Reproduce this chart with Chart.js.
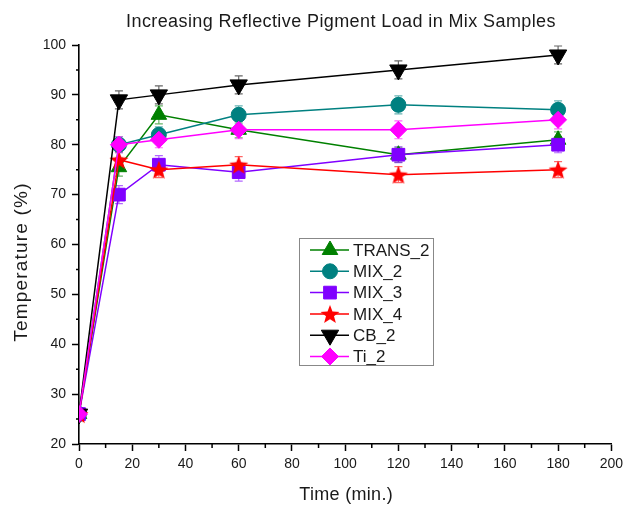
<!DOCTYPE html>
<html>
<head>
<meta charset="utf-8">
<script src="https://cdn.jsdelivr.net/npm/chart.js@4.4.0/dist/chart.umd.min.js"></script>
<style>
  html, body { margin: 0; padding: 0; background: #fff; }
  #wrap { width: 628px; height: 506px; }
</style>
</head>
<body>
<div id="wrap"><canvas id="reflectChart"></canvas></div>
<script>
// sampling times (min.)
const times = [0, 15, 30, 60, 120, 180];

// temperature readings per sample
const trans2 = [26, 75.5, 86, 83, 78, 81];
const mix2 = [26, 80, 82, 86, 88, 87];
const mix3 = [26, 70, 76, 74.5, 78, 80];
const mix4 = [26, 77, 75, 76, 74, 75];
const cb2 = [26, 89, 90, 92, 95, 98];
const ti2 = [26, 80, 81, 83, 83, 85];

// +/- spread for each reading
const trans2Err = [0.8, 1.8, 1.8, 1.6, 1.5, 1.6];
const mix2Err = [0.8, 1.6, 1.6, 1.8, 1.8, 1.8];
const mix3Err = [0.8, 1.8, 1.8, 1.8, 1.6, 1.6];
const mix4Err = [0.8, 1.6, 1.6, 1.6, 1.6, 1.6];
const cb2Err = [0.8, 1.8, 1.8, 1.8, 1.8, 1.8];
const ti2Err = [0.8, 1.6, 1.6, 1.8, 1.8, 1.8];

const xTicks = [0, 20, 40, 60, 80, 100, 120, 140, 160, 180, 200];
const yTicks = [20, 30, 40, 50, 60, 70, 80, 90, 100];
const xMinorTicks = [10, 30, 50, 70, 90, 110, 130, 150, 170, 190];
const yMinorTicks = [25, 35, 45, 55, 65, 75, 85, 95];

const seriesNames = ['TRANS_2', 'MIX_2', 'MIX_3', 'MIX_4', 'CB_2', 'Ti_2'];

const FONT = '"Liberation Sans", Arial, sans-serif';

function makeStar(color, outer, inner) {
    const c = document.createElement('canvas');
    const s = Math.ceil(outer * 2 + 2);
    c.width = s;
    c.height = s;
    const g = c.getContext('2d');
    g.beginPath();
    for (let i = 0; i < 10; i++) {
        const r = i % 2 ? inner : outer;
        const a = -Math.PI / 2 + i * Math.PI / 5;
        g.lineTo(s / 2 + r * Math.cos(a), s / 2 + 1 + r * Math.sin(a));
    }
    g.closePath();
    g.fillStyle = color;
    g.fill();
    return c;
}

const starImg = makeStar('#ff0000', 10, 4.2);

const styles = [
    { color: '#008000', pointStyle: 'triangle', radius: 9, rotation: 0 },
    { color: '#008080', pointStyle: 'circle', radius: 7.5, rotation: 0 },
    { color: '#8000ff', pointStyle: 'rect', radius: 9, rotation: 0 },
    { color: '#ff0000', pointStyle: starImg, radius: 9, rotation: 0 },
    { color: '#000000', pointStyle: 'triangle', radius: 10, rotation: 180 },
    { color: '#ff00ff', pointStyle: 'rectRot', radius: 8.5, rotation: 0 }
];

const values = [trans2, mix2, mix3, mix4, cb2, ti2];
const errors = [trans2Err, mix2Err, mix3Err, mix4Err, cb2Err, ti2Err];

const datasets = values.map((vals, i) => ({
    label: seriesNames[i],
    data: vals.map((v, j) => ({ x: times[j], y: v })),
    borderColor: styles[i].color,
    backgroundColor: styles[i].color,
    borderWidth: 1.5,
    pointStyle: styles[i].pointStyle,
    pointRadius: styles[i].radius,
    pointRotation: styles[i].rotation,
    pointBorderWidth: 1,
    pointBorderColor: styles[i].color,
    pointBackgroundColor: styles[i].color,
    tension: 0,
    order: values.length - i
}));

const hexA = (hex, a) => {
    const n = parseInt(hex.slice(1), 16);
    return 'rgba(' + (n >> 16) + ',' + ((n >> 8) & 255) + ',' + (n & 255) + ',' + a + ')';
};

// vertical error bars with caps, under the markers
const errorBars = {
    id: 'errorBars',
    beforeDatasetsDraw(chart) {
        const { ctx, chartArea, scales } = chart;
        ctx.save();
        ctx.beginPath();
        ctx.rect(chartArea.left, chartArea.top, chartArea.width, chartArea.height);
        ctx.clip();
        values.forEach((vals, i) => {
            ctx.strokeStyle = hexA(styles[i].color, 0.6);
            ctx.lineWidth = 1.2;
            vals.forEach((v, j) => {
                const x = scales.x.getPixelForValue(times[j]);
                const yt = scales.y.getPixelForValue(v + errors[i][j]);
                const yb = scales.y.getPixelForValue(v - errors[i][j]);
                ctx.beginPath();
                ctx.moveTo(x, yt); ctx.lineTo(x, yb);
                ctx.moveTo(x - 4, yt); ctx.lineTo(x + 4, yt);
                ctx.moveTo(x - 4, yb); ctx.lineTo(x + 4, yb);
                ctx.stroke();
            });
        });
        ctx.restore();
    }
};

// short unlabeled ticks between the major ones
const minorTicks = {
    id: 'minorTicks',
    afterDraw(chart) {
        const { ctx, chartArea, scales } = chart;
        ctx.save();
        ctx.strokeStyle = '#000';
        ctx.lineWidth = 1.5;
        ctx.beginPath();
        xMinorTicks.forEach(v => {
            const x = scales.x.getPixelForValue(v);
            ctx.moveTo(x, chartArea.bottom);
            ctx.lineTo(x, chartArea.bottom + 4);
        });
        yMinorTicks.forEach(v => {
            const y = scales.y.getPixelForValue(v);
            ctx.moveTo(chartArea.left, y);
            ctx.lineTo(chartArea.left - 3, y);
        });
        ctx.stroke();
        ctx.restore();
    }
};

// chart title and axis titles
const titles = {
    id: 'titles',
    afterDraw(chart) {
        const { ctx, chartArea } = chart;
        ctx.save();
        ctx.fillStyle = '#1a1a1a';
        ctx.textAlign = 'center';
        ctx.textBaseline = 'alphabetic';

        ctx.font = '18px ' + FONT;
        ctx.letterSpacing = '0.4px';
        ctx.fillText('Increasing Reflective Pigment Load in Mix Samples', 341, 27);

        ctx.letterSpacing = '0.3px';
        ctx.fillText('Time (min.)', (chartArea.left + chartArea.right) / 2 + 1, 500);

        ctx.font = '19px ' + FONT;
        ctx.letterSpacing = '1.2px';
        ctx.translate(27, 262);
        ctx.rotate(-Math.PI / 2);
        ctx.fillText('Temperature (%)', 0, 0);
        ctx.restore();
    }
};

// boxed legend inside the plot
const insideLegend = {
    id: 'insideLegend',
    afterDraw(chart) {
        const { ctx, chartArea } = chart;
        const left = chartArea.left + 220;
        const top = chartArea.top + 193;
        const w = 134, h = 127, rowH = 21.3;
        ctx.save();
        ctx.fillStyle = '#fff';
        ctx.fillRect(left, top, w, h);
        ctx.strokeStyle = '#888';
        ctx.lineWidth = 1;
        ctx.strokeRect(left + 0.5, top + 0.5, w, h);
        ctx.font = '17px ' + FONT;
        ctx.textBaseline = 'middle';
        seriesNames.forEach((name, i) => {
            const y = top + 12 + i * rowH;
            const st = styles[i];
            ctx.strokeStyle = st.color;
            ctx.lineWidth = 1.5;
            ctx.beginPath();
            ctx.moveTo(left + 11, y);
            ctx.lineTo(left + 50, y);
            ctx.stroke();
            ctx.fillStyle = st.color;
            ctx.lineWidth = 1;
            Chart.helpers.drawPoint(ctx, {
                pointStyle: st.pointStyle,
                radius: st.radius,
                rotation: st.rotation,
                borderWidth: 1
            }, left + 31, y);
            ctx.fillStyle = '#1a1a1a';
            ctx.fillText(name, left + 54, y + 1);
        });
        ctx.restore();
    }
};

const tickFont = { family: FONT, size: 14 };

new Chart(document.getElementById('reflectChart'), {
    type: 'line',
    data: { datasets },
    plugins: [errorBars, minorTicks, insideLegend, titles],
    options: {
        responsive: true,
        maintainAspectRatio: false,
        animation: false,
        events: [],
        layout: { padding: { left: 0, right: 16, top: 45, bottom: 0 } },
        plugins: {
            legend: { display: false },
            tooltip: { enabled: false },
            title: { display: false }
        },
        scales: {
            x: {
                type: 'linear',
                min: 0,
                max: 200,
                afterBuildTicks: s => { s.ticks = xTicks.map(v => ({ value: v })); },
                afterFit: s => { s.height = 62; },
                border: { color: '#000', width: 1.6 },
                grid: { drawOnChartArea: false, tickLength: 7, tickColor: '#000', tickWidth: 1.5 },
                ticks: { color: '#1a1a1a', font: tickFont, padding: 5, autoSkip: false, maxRotation: 0 }
            },
            y: {
                type: 'linear',
                min: 20,
                max: 100,
                afterBuildTicks: s => { s.ticks = yTicks.map(v => ({ value: v })); },
                afterFit: s => { s.width = 79; },
                border: { color: '#000', width: 1.6 },
                grid: { drawOnChartArea: false, tickLength: 7, tickColor: '#000', tickWidth: 1.5 },
                ticks: { color: '#1a1a1a', font: tickFont, padding: 6, autoSkip: false }
            }
        }
    }
});
</script>
</body>
</html>
